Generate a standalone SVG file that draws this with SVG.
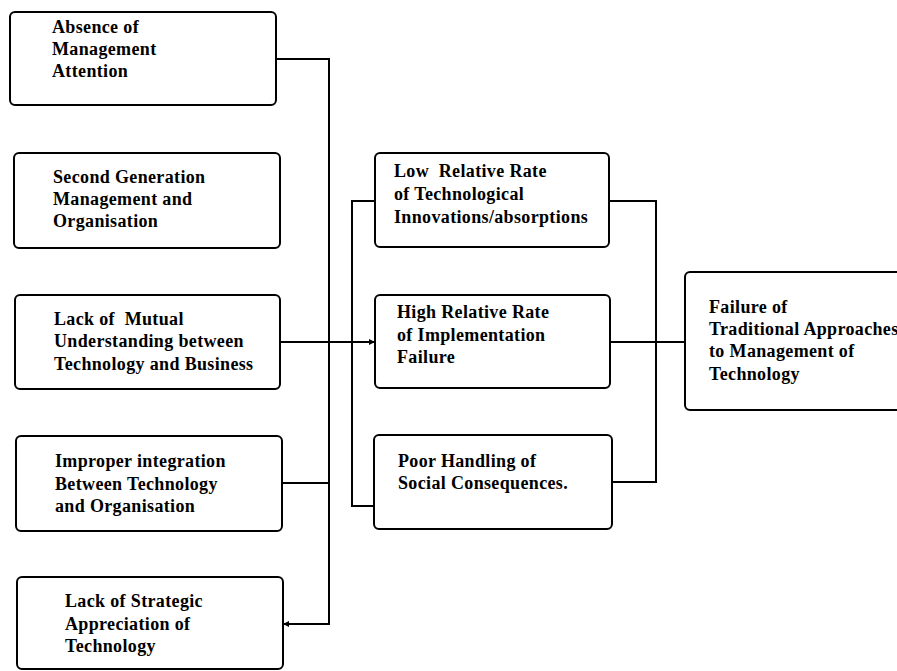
<svg xmlns="http://www.w3.org/2000/svg" width="897" height="671" viewBox="0 0 897 671">
  <style>
    .box { fill: #fff; stroke: #000; stroke-width: 2; }
    .lbl { font-family: 'Liberation Serif', 'DejaVu Serif', serif; font-weight: 700; font-size: 18px; fill: #000; letter-spacing: 0.35px; white-space: pre; }
    .wire { fill: none; stroke: #000; stroke-width: 2; }
  </style>
  <defs>
    <marker id="tip" viewBox="0 0 6 6" refX="6" refY="3" markerWidth="6" markerHeight="6" markerUnits="userSpaceOnUse" orient="auto">
      <path d="M0,0 L6,3 L0,6 z" fill="#000"/>
    </marker>
  </defs>
  <rect width="897" height="671" fill="#fff"/>

  <!-- connectors -->
  <g id="connectors">
    <!-- left bus -->
    <path class="wire" d="M276,59 H329 V624 H283" marker-end="url(#tip)"/>
    <path class="wire" d="M282,483 H329"/>
    <path class="wire" d="M280,342 H375" marker-end="url(#tip)"/>
    <!-- middle-left bus -->
    <path class="wire" d="M375,201 H352 V506 H374"/>
    <!-- right bus -->
    <path class="wire" d="M609,201 H656 V482 H612"/>
    <path class="wire" d="M610,342 H685"/>
  </g>

  <g id="absence">
    <rect class="box" x="10" y="12" width="266" height="93" rx="5"/>
    <text class="lbl" x="52" y="33">Absence of</text>
    <text class="lbl" x="52" y="55">Management</text>
    <text class="lbl" x="52" y="77">Attention</text>
  </g>

  <g id="second-generation">
    <rect class="box" x="14" y="153" width="266" height="95" rx="5"/>
    <text class="lbl" x="53" y="183">Second Generation</text>
    <text class="lbl" x="53" y="205">Management and</text>
    <text class="lbl" x="53" y="227">Organisation</text>
  </g>

  <g id="mutual-understanding">
    <rect class="box" x="15" y="295" width="265" height="94" rx="5"/>
    <text class="lbl" x="54" y="325" xml:space="preserve">Lack of  Mutual</text>
    <text class="lbl" x="54" y="347">Understanding between</text>
    <text class="lbl" x="54" y="370">Technology and Business</text>
  </g>

  <g id="improper-integration">
    <rect class="box" x="16" y="436" width="266" height="95" rx="5"/>
    <text class="lbl" x="55" y="467">Improper integration</text>
    <text class="lbl" x="55" y="490">Between Technology</text>
    <text class="lbl" x="55" y="512">and Organisation</text>
  </g>

  <g id="strategic-appreciation">
    <rect class="box" x="17" y="577" width="266" height="92" rx="5"/>
    <text class="lbl" x="65" y="607">Lack of Strategic</text>
    <text class="lbl" x="65" y="630">Appreciation of</text>
    <text class="lbl" x="65" y="652">Technology</text>
  </g>

  <g id="low-rate">
    <rect class="box" x="375" y="153" width="234" height="94" rx="5"/>
    <text class="lbl" x="394" y="177" xml:space="preserve">Low  Relative Rate</text>
    <text class="lbl" x="394" y="200">of Technological</text>
    <text class="lbl" x="394" y="223">Innovations/absorptions</text>
  </g>

  <g id="high-rate">
    <rect class="box" x="375" y="295" width="235" height="93" rx="5"/>
    <text class="lbl" x="397" y="318">High Relative Rate</text>
    <text class="lbl" x="397" y="341">of Implementation</text>
    <text class="lbl" x="397" y="363">Failure</text>
  </g>

  <g id="social-consequences">
    <rect class="box" x="374" y="435" width="238" height="94" rx="5"/>
    <text class="lbl" x="398" y="467">Poor Handling of</text>
    <text class="lbl" x="398" y="489">Social Consequences.</text>
  </g>

  <g id="traditional-failure">
    <rect class="box" x="685" y="272" width="230" height="138" rx="5"/>
    <text class="lbl" x="709" y="313">Failure of</text>
    <text class="lbl" x="709" y="335">Traditional Approaches</text>
    <text class="lbl" x="709" y="357">to Management of</text>
    <text class="lbl" x="709" y="380">Technology</text>
  </g>
</svg>
